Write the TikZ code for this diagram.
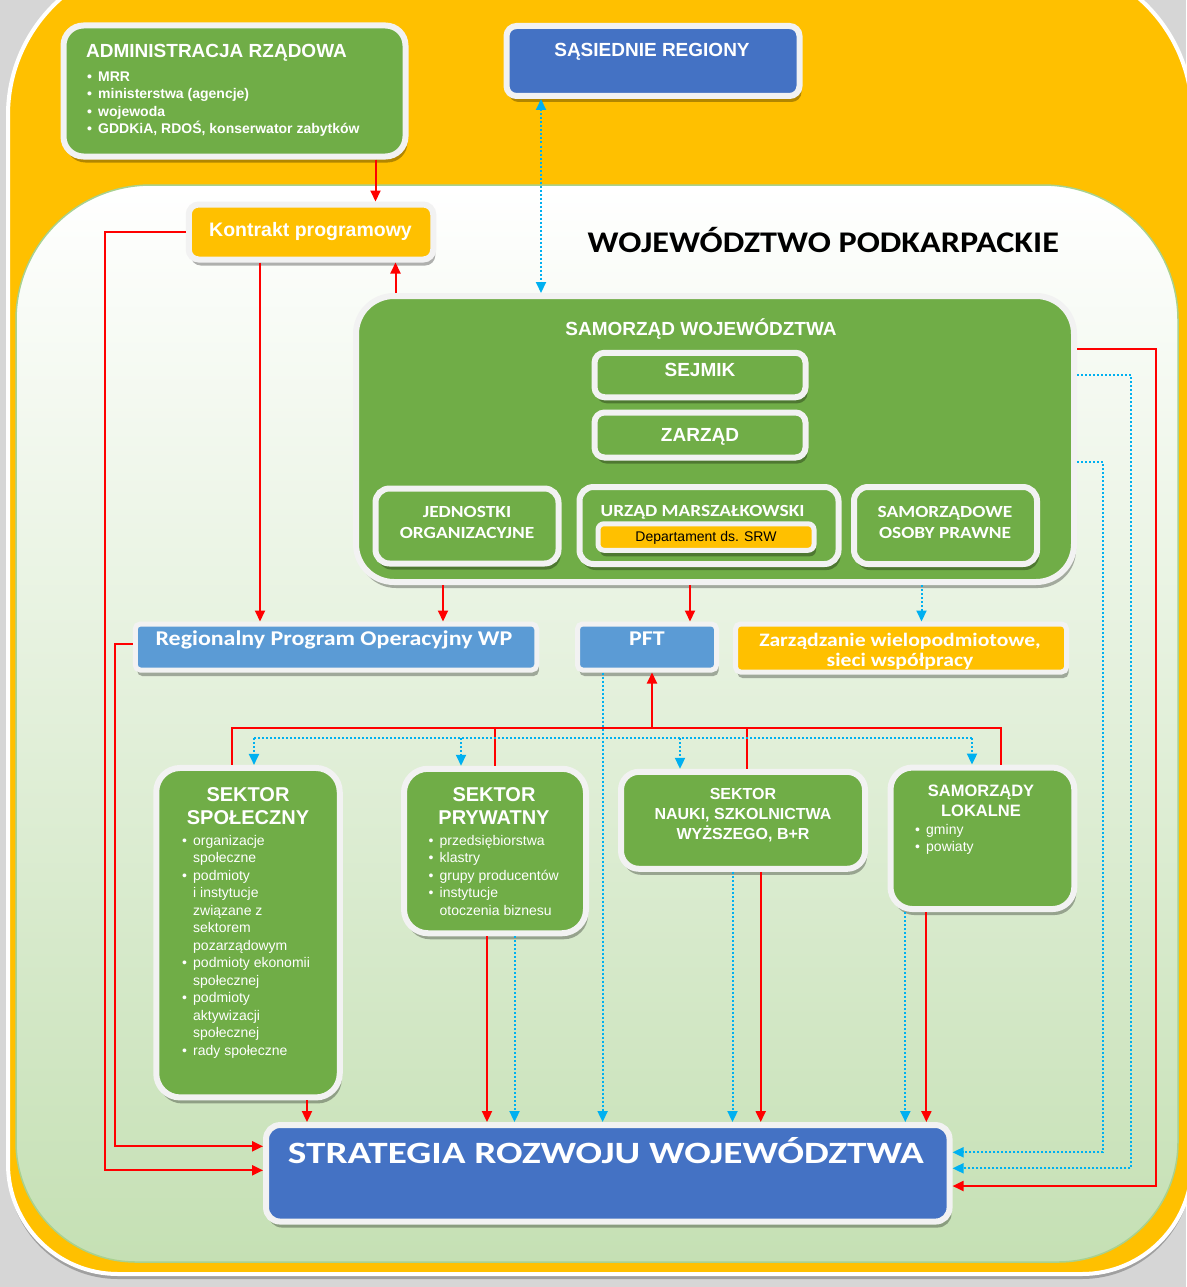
\documentclass[tikz,border=0pt]{standalone}
\usepackage{fontspec}
\setmainfont{Liberation Sans}
\newfontfamily\calib{Carlito}[FakeStretch=1.14]
\usetikzlibrary{arrows.meta,shadows}

\definecolor{grn}{HTML}{70AD47}
\definecolor{ylw}{HTML}{FFC000}
\definecolor{blu}{HTML}{4472C4}
\definecolor{lblu}{HTML}{5B9BD5}
\definecolor{cyn}{HTML}{00B0F0}
\definecolor{brd}{HTML}{F2F2F2}
\definecolor{pane}{HTML}{C5E0B4}
\definecolor{paneln}{HTML}{A9D18E}
\definecolor{bgr}{HTML}{D6D6D6}

\newcommand\fsz[2]{\fontsize{#1}{#2}\selectfont}
\newcommand\itm{\makebox[11pt][l]{\textbullet}}
\newcommand\cnt{\hspace*{11pt}}

\tikzset{
  box/.style={draw=brd, line width=6pt, rounded corners=14pt, inner sep=0pt,
    drop shadow={shadow xshift=2pt, shadow yshift=-6pt, fill=black, opacity=.3}},
  gbox/.style={box, fill=grn},
  ybox/.style={box, fill=ylw},
  bbox/.style={box, fill=blu},
  lbbox/.style={box, fill=lblu, line width=5pt, rounded corners=5pt},
  txt/.style={text=white, inner sep=0pt},
  lst/.style={text=white, inner sep=0pt, align=left, anchor=north west},
  tip/.style={-{Triangle[length=11pt,width=10pt]}},
  tips/.style={{Triangle[length=11pt,width=10pt]}-{Triangle[length=11pt,width=10pt]}},
  redln/.style={red, line width=2pt},
  redarr/.style={redln, tip},
  bluln/.style={cyn, line width=2pt, dash pattern=on 2pt off 2pt},
  bluarr/.style={bluln, tip},
}

\begin{document}
\begin{tikzpicture}[x=1pt, y=-1pt]
\useasboundingbox (0,0) rectangle (1186,1287);
% tlo
\fill[bgr] (0,0) rectangle (1186,1287);
\path[fill=ylw, draw=white, line width=4pt, drop shadow={shadow xshift=0pt, shadow yshift=-5pt, fill=black, opacity=.25}]
  (600,-40) [rounded corners=155pt] -| (1192,600) [rounded corners=110pt] |- (600,1274) -| (8,600) [rounded corners=155pt] |- (600,-40);
\path[top color=white, bottom color=pane, draw=paneln, line width=1.5pt]
  (600,185) [rounded corners=135pt] -| (1178,700) [rounded corners=120pt] |- (600,1262) -| (16,700) [rounded corners=135pt] |- (600,185);

% bloki
\node[gbox, rounded corners=20pt, minimum width=342pt, minimum height=131pt] (adm) at (234.5,91) {};
\node[bbox, rounded corners=10pt, minimum width=293pt, minimum height=70pt] (sas) at (653,61) {};
\node[ybox, rounded corners=10pt, minimum width=244.5pt, minimum height=55pt] (kon) at (311,232) {};
\node[gbox, rounded corners=38pt, minimum width=718pt, minimum height=286pt] (sw) at (715,439) {};
\node[gbox, rounded corners=10pt, minimum width=211pt, minimum height=44.5pt] (sej) at (700,375) {};
\node[gbox, rounded corners=10pt, minimum width=211pt, minimum height=45pt] (zar) at (700,435) {};
\node[gbox, minimum width=183pt, minimum height=75pt] (jed) at (467,526) {};
\node[gbox, minimum width=259pt, minimum height=77pt] (urz) at (709,525.5) {};
\node[ybox, line width=5pt, rounded corners=6pt, minimum width=216pt, minimum height=26.5pt] (dep) at (706,537) {};
\node[gbox, minimum width=183pt, minimum height=77pt] (sop) at (945.5,525.5) {};
\node[lbbox, minimum width=401.5pt, minimum height=46pt] (rpo) at (336,647) {};
\node[lbbox, minimum width=139pt, minimum height=46pt] (pft) at (647,647) {};
\node[ybox, line width=5pt, rounded corners=5pt, minimum width=331pt, minimum height=48pt] (zw) at (901,648) {};
\node[gbox, rounded corners=24pt, minimum width=183.5pt, minimum height=329.5pt] (ss) at (248,932.7) {};
\node[gbox, rounded corners=24pt, minimum width=182pt, minimum height=164.5pt] (sp) at (495,851) {};
\node[gbox, rounded corners=18pt, minimum width=244pt, minimum height=97pt] (sn) at (743,820.3) {};
\node[gbox, rounded corners=22pt, minimum width=183.8pt, minimum height=141.5pt] (sl) at (982.4,838.3) {};
\node[bbox, rounded corners=14pt, minimum width=683.5pt, minimum height=96.5pt] (srw) at (607.8,1173.3) {};

% teksty
\node[txt, anchor=base west, font=\bfseries\fsz{19}{22}] (adm-t) at (86,58) {ADMINISTRACJA RZĄDOWA};
\node[lst, font=\bfseries\fsz{14}{17.4}] (adm-l) at (87,71.7) {\itm MRR\\\itm ministerstwa (agencje)\\\itm wojewoda\\\itm GDDKiA, RDOŚ, konserwator zabytków};
\node[txt, anchor=base, font=\bfseries\fsz{19}{22}] (sas-t) at (652,57) {SĄSIEDNIE REGIONY};
\node[txt, anchor=base, font=\bfseries\fsz{19.5}{22}] (kon-t) at (310.5,236) {Kontrakt programowy};
\node[anchor=base west, inner sep=0pt, font=\calib\bfseries\fsz{30}{32}] (woj) at (587.5,252) {WOJEWÓDZTWO PODKARPACKIE};
\node[txt, anchor=base, font=\bfseries\fsz{19}{22}] (sw-t) at (701,335) {SAMORZĄD WOJEWÓDZTWA};
\node[txt, anchor=base, font=\bfseries\fsz{19}{22}] (sej-t) at (700,376) {SEJMIK};
\node[txt, anchor=base, font=\bfseries\fsz{19}{22}] (zar-t) at (700,441.7) {ZARZĄD};
\node[txt, anchor=north, align=center, font=\calib\bfseries\fsz{17}{21.3}] (jed-t) at (467,505.8) {JEDNOSTKI\\ORGANIZACYJNE};
\node[txt, anchor=base, font=\calib\bfseries\fsz{17}{21}] (urz-t) at (702.6,516.7) {URZĄD MARSZAŁKOWSKI};
\node[anchor=base, inner sep=0pt, font=\fsz{14}{17}] (dep-t) at (706,541.7) {Departament ds. SRW};
\node[txt, anchor=north, align=center, font=\calib\bfseries\fsz{17}{21.3}] (sop-t) at (945,505.8) {SAMORZĄDOWE\\OSOBY PRAWNE};
\node[txt, anchor=base, font=\calib\bfseries\fsz{21}{24}] (rpo-t) at (334,645.7) {Regionalny Program Operacyjny WP};
\node[txt, anchor=base, font=\calib\bfseries\fsz{21}{24}] (pft-t) at (647,645.7) {PFT};
\node[txt, anchor=north, align=center, font=\calib\bfseries\fsz{19}{20}] (zw-t) at (900,632.6) {Zarządzanie wielopodmiotowe,\\sieci współpracy};
\node[txt, anchor=north, align=center, font=\bfseries\fsz{20}{23}] (ss-t) at (248,787.4) {SEKTOR\\SPOŁECZNY};
\node[lst, font=\fsz{14}{17.5}] (ss-l) at (182,835) {\itm organizacje\\\cnt społeczne\\\itm podmioty\\\cnt i instytucje\\\cnt związane z\\\cnt sektorem\\\cnt pozarządowym\\\itm podmioty ekonomii\\\cnt społecznej\\\itm podmioty\\\cnt aktywizacji\\\cnt społecznej\\\itm rady społeczne};
\node[txt, anchor=north, align=center, font=\bfseries\fsz{20}{23}] (sp-t) at (494,787.4) {SEKTOR\\PRYWATNY};
\node[lst, font=\fsz{14}{17.5}] (sp-l) at (428.5,834.8) {\itm przedsiębiorstwa\\\itm klastry\\\itm grupy producentów\\\itm instytucje\\\cnt otoczenia biznesu};
\node[txt, anchor=north, align=center, font=\bfseries\fsz{16}{20}] (sn-t) at (743,788.5) {SEKTOR\\NAUKI, SZKOLNICTWA\\WYŻSZEGO, B+R};
\node[txt, anchor=north, align=center, font=\bfseries\fsz{16.5}{20}] (sl-t) at (981,784.9) {SAMORZĄDY\\LOKALNE};
\node[lst, font=\fsz{14}{17}] (sl-l) at (915,824) {\itm gminy\\\itm powiaty};
\node[txt, anchor=base, font=\calib\bfseries\fsz{31}{34}] (srw-t) at (606,1163.3) {\scalebox{1.11}[1]{STRATEGIA ROZWOJU WOJEWÓDZTWA}};

% polaczenia
\draw[redarr] (adm.south -| 375.5,0) -- (kon.north -| 375.5,0);
\draw[redarr] (sw.north -| 395.5,0) -- (kon.south -| 395.5,0);
\draw[redarr] (kon.south -| 260,0) -- (rpo.north -| 260,0);
\draw[redarr] (kon.west) -| (105,600) |- ([yshift=3pt]srw.west);
\draw[redarr] ([yshift=3pt]rpo.west) -| (115,800) |- ([yshift=27pt]srw.west);
\draw[redarr] (sw.south -| 443,0) -- (rpo.north -| 443,0);
\draw[redarr] (sw.south -| 690,0) -- (pft.north -| 690,0);
\draw[redarr] ([yshift=90pt]sw.east) -| (1156,800) |- ([yshift=-12.7pt]srw.east);
\draw[bluln, tips] (sas.south -| 541,0) -- (sw.north -| 541,0);
\draw[bluarr] (sw.south -| 921.5,0) -- (zw.north -| 921.5,0);
\draw[bluarr] ([yshift=64pt]sw.east) -| (1131,800) |- ([yshift=5pt]srw.east);
\draw[bluarr] ([yshift=-23pt]sw.east) -| (1103,800) |- ([yshift=21pt]srw.east);

\coordinate (rt) at (652,728);
\coordinate (bt) at (602.6,738);
\draw[redln] (ss.north -| 232,0) |- (rt -| 1000.5,0) -- (sl.north -| 1000.5,0);
\draw[redln] (sp.north -| 495.4,0) -- (rt -| 495.4,0);
\draw[redln] (sn.north -| 747,0) -- (rt -| 747,0);
\draw[redarr] (rt) -- (pft.south -| rt);
\draw[bluln] (bt -| 254,0) -- (bt -| 972,0);
\draw[bluarr] (bt -| 254,0) -- (ss.north -| 254,0);
\draw[bluarr] (bt -| 461,0) -- (sp.north -| 461,0);
\draw[bluarr] (bt -| 680,0) -- (sn.north -| 680,0);
\draw[bluarr] (bt -| 972,0) -- (sl.north -| 972,0);
\draw[bluarr] (pft.south -| bt) -- (srw.north -| bt);

\draw[redarr] (ss.south -| 307,0) -- (srw.north -| 307,0);
\draw[redarr] (sp.south -| 487,0) -- (srw.north -| 487,0);
\draw[bluarr] (sp.south -| 514.5,0) -- (srw.north -| 514.5,0);
\draw[bluarr] (sn.south -| 732.5,0) -- (srw.north -| 732.5,0);
\draw[redarr] (sn.south -| 760.7,0) -- (srw.north -| 760.7,0);
\draw[bluarr] (sl.south -| 905.3,0) -- (srw.north -| 905.3,0);
\draw[redarr] (sl.south -| 926.4,0) -- (srw.north -| 926.4,0);
\end{tikzpicture}
\end{document}
